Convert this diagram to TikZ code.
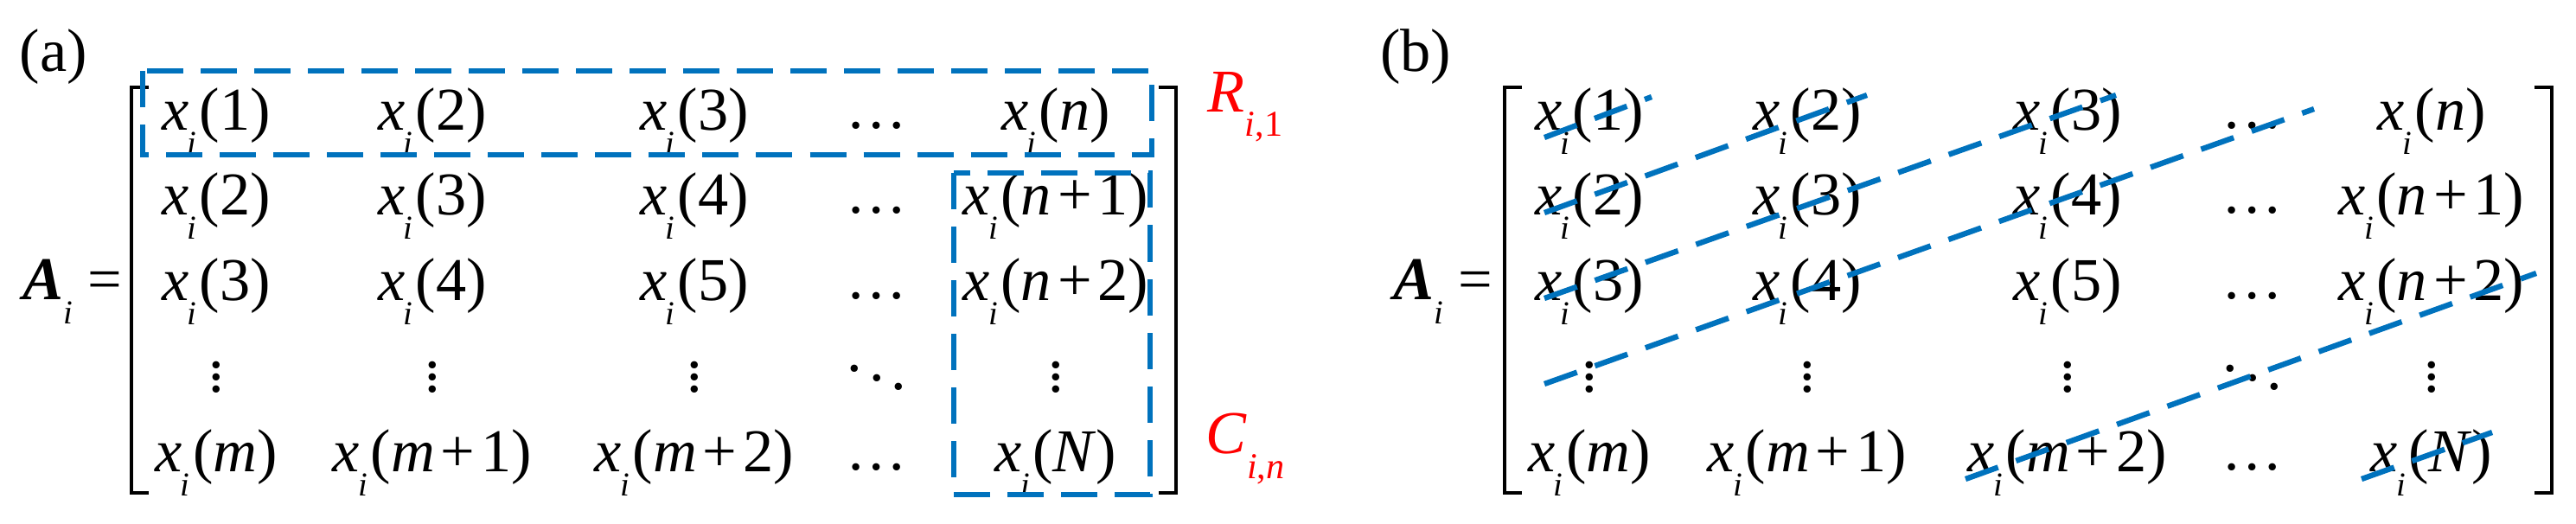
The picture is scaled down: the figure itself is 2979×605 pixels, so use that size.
\documentclass[tikz,border=0pt]{standalone}
\usepackage{fontspec}
\setmainfont{Liberation Serif}
\definecolor{dblue}{RGB}{0,114,189}
\newcommand{\xx}[1]{\textit{x}\kern-0.5pt\raisebox{-0.4em}{\fontsize{11}{12}\selectfont\textit{i}}\kern1pt(#1)}
\newcommand{\pl}{\kern2pt+\kern2pt}
\tikzset{el/.style={inner sep=0pt,font=\fontsize{20}{22}\selectfont},
 brk/.style={line width=0.9pt},
 dbox/.style={draw=dblue,line width=1.7pt,dash pattern=on 0.42cm off 0.2cm},
 dl/.style={draw=dblue,line width=1.8pt,dash pattern=on 0.4cm off 0.22cm},
 lab/.style={inner sep=0pt,font=\fontsize{20}{22}\selectfont}}
\begin{document}
\begin{tikzpicture}[x=0.01cm,y=-0.01cm]
\useasboundingbox (0,0) rectangle (2979,605);
% panel a
\node[lab] (la) at (62,66) {(a)};
\node[el,anchor=east] (Aa) at (142,337) {\textbf{\textit{A}}\raisebox{-0.4em}{\fontsize{11}{12}\selectfont\textit{i}} =};
\draw[brk] (172,101) -- (152,101) -- (152,570) -- (172,570);
\draw[brk] (1340,101) -- (1360,101) -- (1360,570) -- (1340,570);
\node[el] (a11) at (250,140) {\xx{1}};
\node[el] (a12) at (500,140) {\xx{2}};
\node[el] (a13) at (803,140) {\xx{3}};
\node[el] (a14) at (1014,145) {\dots};
\node[el] (a15) at (1221,140) {\xx{\textit{n}}};
\node[el] (a21) at (250,238) {\xx{2}};
\node[el] (a22) at (500,238) {\xx{3}};
\node[el] (a23) at (803,238) {\xx{4}};
\node[el] (a24) at (1014,243) {\dots};
\node[el] (a25) at (1221,238) {\xx{\textit{n}\pl1}};
\node[el] (a31) at (250,337) {\xx{3}};
\node[el] (a32) at (500,337) {\xx{4}};
\node[el] (a33) at (803,337) {\xx{5}};
\node[el] (a34) at (1014,342) {\dots};
\node[el] (a35) at (1221,337) {\xx{\textit{n}\pl2}};
\node[el] (a41) at (250,426) {$\vdots$};
\node[el] (a42) at (500,426) {$\vdots$};
\node[el] (a43) at (803,426) {$\vdots$};
\node[el] (a44) at (1014,426) {$\ddots$};
\node[el] (a45) at (1221,426) {$\vdots$};
\node[el] (a51) at (250,535) {\xx{\textit{m}}};
\node[el] (a52) at (500,535) {\xx{\textit{m}\pl1}};
\node[el] (a53) at (803,535) {\xx{\textit{m}\pl2}};
\node[el] (a54) at (1014,540) {\dots};
\node[el] (a55) at (1221,535) {\xx{\textit{N}}};
\draw[dbox] (165,82) rectangle (1332,179);
\draw[dbox] (1103,200) rectangle (1330,572);
\node[lab,text=red] (R) at (1440,124) {\textit{R}\raisebox{-0.4em}{\fontsize{12}{13}\selectfont\textit{i},1}};
\node[lab,text=red] (C) at (1440,519) {\textit{C}\raisebox{-0.4em}{\fontsize{12}{13}\selectfont\textit{i},\textit{n}}};
% panel b
\node[lab] (lb) at (1637,66) {(b)};
\node[el,anchor=east] (Ab) at (1727,337) {\textbf{\textit{A}}\raisebox{-0.4em}{\fontsize{11}{12}\selectfont\textit{i}} =};
\draw[brk] (1760,101) -- (1740,101) -- (1740,570) -- (1760,570);
\draw[brk] (2931,101) -- (2951,101) -- (2951,570) -- (2931,570);
\node[el] (b11) at (1838,140) {\xx{1}};
\node[el] (b12) at (2090,140) {\xx{2}};
\node[el] (b13) at (2391,140) {\xx{3}};
\node[el] (b14) at (2605,145) {\dots};
\node[el] (b15) at (2812,140) {\xx{\textit{n}}};
\node[el] (b21) at (1838,238) {\xx{2}};
\node[el] (b22) at (2090,238) {\xx{3}};
\node[el] (b23) at (2391,238) {\xx{4}};
\node[el] (b24) at (2605,243) {\dots};
\node[el] (b25) at (2812,238) {\xx{\textit{n}\pl1}};
\node[el] (b31) at (1838,337) {\xx{3}};
\node[el] (b32) at (2090,337) {\xx{4}};
\node[el] (b33) at (2391,337) {\xx{5}};
\node[el] (b34) at (2605,342) {\dots};
\node[el] (b35) at (2812,337) {\xx{\textit{n}\pl2}};
\node[el] (b41) at (1838,426) {$\vdots$};
\node[el] (b42) at (2090,426) {$\vdots$};
\node[el] (b43) at (2391,426) {$\vdots$};
\node[el] (b44) at (2605,426) {$\ddots$};
\node[el] (b45) at (2812,426) {$\vdots$};
\node[el] (b51) at (1838,535) {\xx{\textit{m}}};
\node[el] (b52) at (2090,535) {\xx{\textit{m}\pl1}};
\node[el] (b53) at (2391,535) {\xx{\textit{m}\pl2}};
\node[el] (b54) at (2605,540) {\dots};
\node[el] (b55) at (2812,535) {\xx{\textit{N}}};
\coordinate (p1) at (1786,159); \coordinate (q1) at (1910,112);
\coordinate (p2) at (1786,246); \coordinate (q2) at (2159,110);
\coordinate (p3) at (1786,345); \coordinate (q3) at (2447,110);
\coordinate (p4) at (1786,444); \coordinate (q4) at (2676,126);
\coordinate (p5) at (2273,554); \coordinate (q5) at (2933,316);
\coordinate (p6) at (2731,554); \coordinate (q6) at (2882,500);
\foreach \i in {1,...,6}{\draw[dl] (p\i) -- (q\i);}
\end{tikzpicture}
\end{document}
